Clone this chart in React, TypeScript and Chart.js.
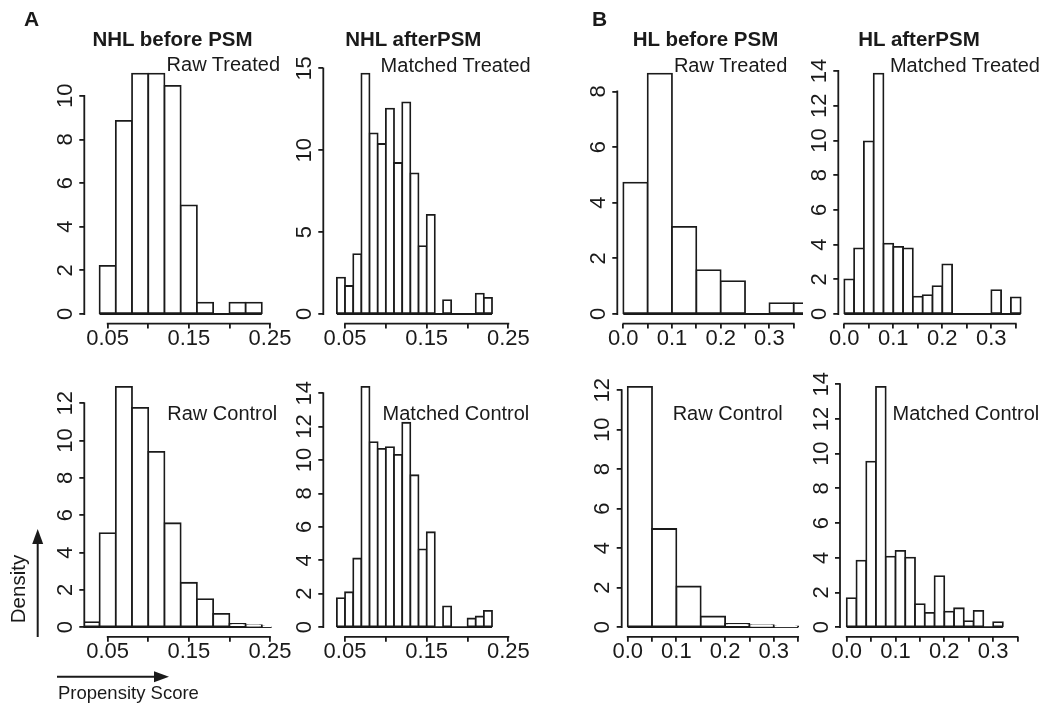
import React, { useEffect, useRef } from 'react';
import { Chart, registerables } from 'chart.js';

Chart.register(...registerables);

const INK = '#1a1a1a';
const FONT = "'Liberation Sans', Arial, Helvetica, sans-serif";
const TICK_SIZE = 22;
const LINE_W = 1.8;

// ---------- data: bin edges (breaks) and densities ----------
const nhlBeforeTreatedBreaks = [0.04, 0.06, 0.08, 0.1, 0.12, 0.14, 0.16, 0.18, 0.2, 0.22, 0.24];
const nhlBeforeTreatedDensity = [2.21, 8.85, 11.02, 11.02, 10.46, 4.98, 0.52, 0, 0.52, 0.52];

const nhlAfterTreatedBreaks = [0.04, 0.05, 0.06, 0.07, 0.08, 0.09, 0.1, 0.11, 0.12, 0.13, 0.14, 0.15, 0.16, 0.17, 0.18, 0.19, 0.2, 0.21, 0.22, 0.23];
const nhlAfterTreatedDensity = [2.22, 1.71, 3.66, 14.68, 11.03, 10.38, 12.54, 9.22, 12.92, 8.59, 4.15, 6.05, 0, 0.85, 0, 0, 0, 1.24, 0.98];

const hlBeforeTreatedBreaks = [0, 0.05, 0.1, 0.15, 0.2, 0.25, 0.3, 0.35, 0.4];
const hlBeforeTreatedDensity = [4.72, 8.64, 3.13, 1.58, 1.18, 0, 0.39, 0.39];

const hlAfterTreatedBreaks = [0, 0.02, 0.04, 0.06, 0.08, 0.1, 0.12, 0.14, 0.16, 0.18, 0.2, 0.22, 0.24, 0.26, 0.28, 0.3, 0.32, 0.34, 0.36];
const hlAfterTreatedDensity = [1.99, 3.78, 9.95, 13.85, 4.05, 3.87, 3.78, 1.0, 1.09, 1.61, 2.86, 0, 0, 0, 0, 1.38, 0, 0.96];

const nhlBeforeControlBreaks = [0.02, 0.04, 0.06, 0.08, 0.1, 0.12, 0.14, 0.16, 0.18, 0.2, 0.22, 0.24, 0.26];
const nhlBeforeControlDensity = [0.27, 5.04, 12.88, 11.75, 9.39, 5.57, 2.38, 1.5, 0.71, 0.18, 0.11, 0.05];

const nhlAfterControlBreaks = [0.04, 0.05, 0.06, 0.07, 0.08, 0.09, 0.1, 0.11, 0.12, 0.13, 0.14, 0.15, 0.16, 0.17, 0.18, 0.19, 0.2, 0.21, 0.22, 0.23];
const nhlAfterControlDensity = [1.74, 2.09, 4.11, 14.38, 11.07, 10.67, 10.77, 10.31, 12.23, 9.09, 4.65, 5.68, 0, 1.24, 0, 0, 0.52, 0.64, 0.98];

const hlBeforeControlBreaks = [0, 0.05, 0.1, 0.15, 0.2, 0.25, 0.3, 0.35];
const hlBeforeControlDensity = [12.17, 4.97, 2.06, 0.54, 0.17, 0.1, 0.03];

const hlAfterControlBreaks = [0, 0.02, 0.04, 0.06, 0.08, 0.1, 0.12, 0.14, 0.16, 0.18, 0.2, 0.22, 0.24, 0.26, 0.28, 0.3, 0.32];
const hlAfterControlDensity = [1.67, 3.84, 9.54, 13.85, 4.07, 4.4, 4.01, 1.33, 0.83, 2.94, 0.9, 1.09, 0.35, 0.94, 0, 0.29];

// ---------- tick labels ----------
const nhlXTicks = [0.05, 0.1, 0.15, 0.2, 0.25];
const nhlXLabels = ['0.05', '', '0.15', '', '0.25'];
const hlXTicks = [0, 0.05, 0.1, 0.15, 0.2, 0.25, 0.3, 0.35];
const hlXLabels = ['0.0', '', '0.1', '', '0.2', '', '0.3', ''];

const yTicks8 = [0, 2, 4, 6, 8];
const yTicks10 = [0, 2, 4, 6, 8, 10];
const yTicks12 = [0, 2, 4, 6, 8, 10, 12];
const yTicks14 = [0, 2, 4, 6, 8, 10, 12, 14];
const yTicks15 = [0, 5, 10, 15];

// ---------- texts ----------
const columnTitles = ['NHL before PSM', 'NHL afterPSM', 'HL before PSM', 'HL afterPSM'];
const panelLetters = ['A', 'B'];
const legendLabels = ['Raw Treated', 'Matched Treated', 'Raw Treated', 'Matched Treated', 'Raw Control', 'Matched Control', 'Raw Control', 'Matched Control'];

// ---------- layout (page pixels) ----------
const TOP_ROW = { top: 64.0, bottom: 323.6 };
const BOTTOM_ROW = { top: 377.2, bottom: 636.8 };

type Box = { left: number; right: number; top: number; bottom: number };
type PanelDef = {
  breaks: number[];
  density: number[];
  xTicks: number[];
  xLabels: string[];
  yTicks: number[];
  box: Box;
  xMin: number;
  xMax: number;
  legend: string;
  legendRight: number;
  legendBaseline: number;
};

const panels: PanelDef[] = [
  { breaks: nhlBeforeTreatedBreaks, density: nhlBeforeTreatedDensity, xTicks: nhlXTicks, xLabels: nhlXLabels, yTicks: yTicks10,
    box: { left: 84.3, right: 271.6, ...TOP_ROW }, xMin: 0.0212, xMax: 0.252, legend: legendLabels[0], legendRight: 280, legendBaseline: 71 },
  { breaks: nhlAfterTreatedBreaks, density: nhlAfterTreatedDensity, xTicks: nhlXTicks, xLabels: nhlXLabels, yTicks: yTicks15,
    box: { left: 323.3, right: 510.0, ...TOP_ROW }, xMin: 0.0234, xMax: 0.252, legend: legendLabels[1], legendRight: 530.7, legendBaseline: 71.5 },
  { breaks: hlBeforeTreatedBreaks, density: hlBeforeTreatedDensity, xTicks: hlXTicks, xLabels: hlXLabels, yTicks: yTicks8,
    box: { left: 617.3, right: 803.0, ...TOP_ROW }, xMin: -0.0123, xMax: 0.369, legend: legendLabels[2], legendRight: 787.3, legendBaseline: 71.5 },
  { breaks: hlAfterTreatedBreaks, density: hlAfterTreatedDensity, xTicks: hlXTicks, xLabels: hlXLabels, yTicks: yTicks14,
    box: { left: 838.3, right: 1025.1, ...TOP_ROW }, xMin: -0.0122, xMax: 0.369, legend: legendLabels[3], legendRight: 1040, legendBaseline: 71.5 },
  { breaks: nhlBeforeControlBreaks, density: nhlBeforeControlDensity, xTicks: nhlXTicks, xLabels: nhlXLabels, yTicks: yTicks12,
    box: { left: 84.3, right: 271.6, ...BOTTOM_ROW }, xMin: 0.0212, xMax: 0.252, legend: legendLabels[4], legendRight: 277.3, legendBaseline: 420 },
  { breaks: nhlAfterControlBreaks, density: nhlAfterControlDensity, xTicks: nhlXTicks, xLabels: nhlXLabels, yTicks: yTicks14,
    box: { left: 323.3, right: 510.0, ...BOTTOM_ROW }, xMin: 0.0234, xMax: 0.252, legend: legendLabels[5], legendRight: 529.3, legendBaseline: 420 },
  { breaks: hlBeforeControlBreaks, density: hlBeforeControlDensity, xTicks: hlXTicks, xLabels: hlXLabels, yTicks: yTicks12,
    box: { left: 621.7, right: 807.4, ...BOTTOM_ROW }, xMin: -0.0123, xMax: 0.369, legend: legendLabels[6], legendRight: 782.7, legendBaseline: 420 },
  { breaks: hlAfterControlBreaks, density: hlAfterControlDensity, xTicks: hlXTicks, xLabels: hlXLabels, yTicks: yTicks14,
    box: { left: 840.0, right: 1026.8, ...BOTTOM_ROW }, xMin: -0.0137, xMax: 0.369, legend: legendLabels[7], legendRight: 1039.3, legendBaseline: 420 },
];

const titlePos = [
  { cx: 172.5, baseline: 46 },
  { cx: 413.3, baseline: 46 },
  { cx: 705.5, baseline: 46 },
  { cx: 919.0, baseline: 46 },
];
const letterPos = [
  { left: 24, baseline: 26 },
  { left: 592, baseline: 26 },
];

// R-style axis lines: from first to last tick only
const axisLinesPlugin = {
  id: 'rAxisLines',
  afterDraw(chart: any) {
    const { ctx, chartArea, scales } = chart;
    const x = scales.x;
    const y = scales.y;
    const xt = x.ticks;
    const yt = y.ticks;
    ctx.save();
    ctx.strokeStyle = INK;
    ctx.lineWidth = LINE_W;
    ctx.lineCap = 'square';
    ctx.beginPath();
    ctx.moveTo(x.getPixelForValue(xt[0].value), chartArea.bottom);
    ctx.lineTo(x.getPixelForValue(xt[xt.length - 1].value), chartArea.bottom);
    ctx.moveTo(chartArea.left, y.getPixelForValue(yt[0].value));
    ctx.lineTo(chartArea.left, y.getPixelForValue(yt[yt.length - 1].value));
    ctx.stroke();
    ctx.restore();
  },
};

function HistPanel({ def }: { def: PanelDef }) {
  const ref = useRef<HTMLCanvasElement | null>(null);
  const { box } = def;
  const canvasLeft = Math.floor(box.left - 44);
  const canvasTop = Math.floor(box.top - 24);
  const yAxisW = box.left - canvasLeft;
  const padTop = box.top - canvasTop;
  const width = Math.ceil(box.right - canvasLeft + 36);
  const height = Math.ceil(box.bottom - canvasTop + 46);
  const padRight = width - (box.right - canvasLeft);
  const xAxisH = height - (box.bottom - canvasTop);

  useEffect(() => {
    const canvas = ref.current;
    if (!canvas) return;
    const ym = Math.max(...def.density);
    const centers = def.density.map((_, i) => (def.breaks[i] + def.breaks[i + 1]) / 2);
    const digits = Math.max(...def.yTicks.map((v) => String(v).length));
    const yPad = 13.5 - (digits * 0.556 * TICK_SIZE) / 2;
    const tickFont = { family: FONT, size: TICK_SIZE, lineHeight: 1 };
    const grid = {
      display: true,
      drawOnChartArea: false,
      drawTicks: true,
      tickLength: 5,
      color: INK,
      lineWidth: LINE_W,
      offset: false,
    };

    const chart = new Chart(canvas, {
      type: 'bar',
      data: {
        datasets: [
          {
            type: 'bar',
            data: centers.map((x, i) => ({ x, y: def.density[i] })),
            backgroundColor: '#ffffff',
            borderColor: INK,
            borderWidth: LINE_W,
            inflateAmount: LINE_W / 2,
            borderSkipped: false,
            barPercentage: 1,
            categoryPercentage: 1,
            clip: 0,
          },
          {
            type: 'line',
            data: [
              { x: def.breaks[0], y: 0 },
              { x: def.breaks[def.breaks.length - 1], y: 0 },
            ],
            borderColor: INK,
            borderWidth: LINE_W,
            pointRadius: 0,
            fill: false,
            clip: 0,
          },
        ],
      } as any,
      options: {
        responsive: false,
        animation: false,
        events: [],
        layout: { padding: { left: 0, top: padTop, right: padRight, bottom: 0 } },
        plugins: {
          legend: { display: false },
          tooltip: { enabled: false },
          title: { display: false },
        },
        scales: {
          x: {
            type: 'linear',
            position: 'bottom',
            min: def.xMin,
            max: def.xMax,
            bounds: 'data',
            offset: false,
            afterBuildTicks: (s: any) => {
              s.ticks = def.xTicks.map((v) => ({ value: v }));
            },
            afterFit: (s: any) => {
              s.height = xAxisH;
            },
            ticks: {
              autoSkip: false,
              minRotation: 0,
              maxRotation: 0,
              padding: -1,
              color: INK,
              font: tickFont,
              callback: (_v: any, i: number) => def.xLabels[i],
            },
            grid,
            border: { display: false },
          },
          y: {
            type: 'linear',
            position: 'left',
            min: -0.04 * ym,
            max: 1.04 * ym,
            bounds: 'data',
            afterBuildTicks: (s: any) => {
              s.ticks = def.yTicks.map((v) => ({ value: v }));
            },
            afterFit: (s: any) => {
              s.width = yAxisW;
            },
            ticks: {
              autoSkip: false,
              minRotation: 90,
              maxRotation: 90,
              crossAlign: 'center',
              padding: yPad,
              color: INK,
              font: tickFont,
              callback: (v: any) => String(v),
            },
            grid,
            border: { display: false },
          },
        },
      } as any,
      plugins: [axisLinesPlugin],
    });
    return () => chart.destroy();
  }, []);

  return (
    <canvas
      ref={ref}
      width={width}
      height={height}
      style={{ position: 'absolute', left: canvasLeft, top: canvasTop, width, height }}
    />
  );
}

function topFor(baseline: number, size: number) {
  return baseline - 0.8465 * size;
}

export default function App() {
  const legendSize = 20;
  const titleSize = 20.5;
  return (
    <div
      style={{
        position: 'absolute',
        left: 0,
        top: 0,
        width: 1048,
        height: 708,
        background: '#ffffff',
        overflow: 'hidden',
        fontFamily: FONT,
        color: INK,
      }}
    >
      {panels.map((p, i) => (
        <HistPanel key={i} def={p} />
      ))}

      {columnTitles.map((t, i) => (
        <div
          key={'t' + i}
          style={{
            position: 'absolute',
            left: titlePos[i].cx - 150,
            width: 300,
            textAlign: 'center',
            top: topFor(titlePos[i].baseline, titleSize),
            fontSize: titleSize,
            lineHeight: titleSize + 'px',
            fontWeight: 'bold',
            whiteSpace: 'nowrap',
          }}
        >
          {t}
        </div>
      ))}

      {panelLetters.map((l, i) => (
        <div
          key={'l' + i}
          style={{
            position: 'absolute',
            left: letterPos[i].left,
            top: topFor(letterPos[i].baseline, 21),
            fontSize: 21,
            lineHeight: '21px',
            fontWeight: 'bold',
          }}
        >
          {l}
        </div>
      ))}

      {panels.map((p, i) => (
        <div
          key={'g' + i}
          style={{
            position: 'absolute',
            right: 1048 - p.legendRight,
            top: topFor(p.legendBaseline, legendSize),
            fontSize: legendSize,
            lineHeight: legendSize + 'px',
            whiteSpace: 'nowrap',
          }}
        >
          {p.legend}
        </div>
      ))}

      <svg width={1048} height={708} style={{ position: 'absolute', left: 0, top: 0 }}>
        <line x1={37.7} y1={637} x2={37.7} y2={542} stroke={INK} strokeWidth={2} />
        <polygon points="37.7,529 32.2,544 43.2,544" fill={INK} />
        <line x1={57} y1={676.7} x2={157} y2={676.7} stroke={INK} strokeWidth={2} />
        <polygon points="169,676.7 154,671.2 154,682.2" fill={INK} />
      </svg>

      <div
        style={{
          position: 'absolute',
          left: 18,
          top: 588.5,
          transform: 'translate(-50%, -50%) rotate(-90deg)',
          fontSize: 20.5,
          lineHeight: '20.5px',
          whiteSpace: 'nowrap',
        }}
      >
        Density
      </div>
      <div
        style={{
          position: 'absolute',
          left: 58,
          top: topFor(700, 18.5),
          fontSize: 18.5,
          lineHeight: '18.5px',
          whiteSpace: 'nowrap',
        }}
      >
        Propensity Score
      </div>
    </div>
  );
}
